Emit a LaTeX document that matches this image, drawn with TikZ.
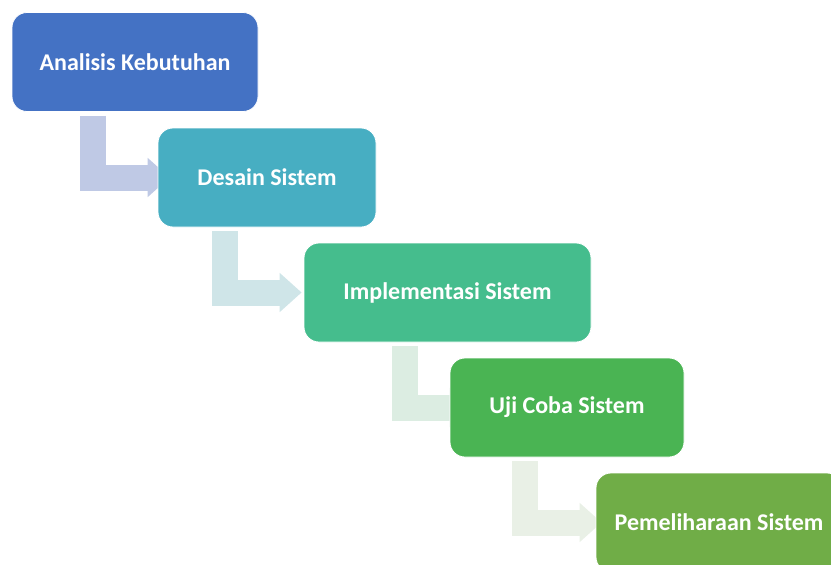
\documentclass[tikz,border=0pt]{standalone}
\usepackage{fontspec}
\setmainfont{Carlito}
\usetikzlibrary{arrows.meta,backgrounds,calc}
\definecolor{c1}{HTML}{4472C4}
\definecolor{c2}{HTML}{47AEC2}
\definecolor{c3}{HTML}{45BD8D}
\definecolor{c4}{HTML}{4AB453}
\definecolor{c5}{HTML}{70AD47}
\definecolor{a1}{HTML}{BFC9E5}
\definecolor{a2}{HTML}{CFE5E8}
\definecolor{a3}{HTML}{DCEDE2}
\definecolor{a4}{HTML}{E9F0E6}
\begin{document}
\begin{tikzpicture}[x=1pt,y=-1pt,
  stage/.style={rounded corners=15pt, draw=white, line width=0.8pt, text=white,
    font=\bfseries\fontsize{24}{28}\selectfont, minimum height=99pt, inner sep=0pt},
  flow/.style={line width=26pt, line join=miter, -{Triangle[width=38pt,length=22pt]}}]
\useasboundingbox (0,0) rectangle (831,565);
\node[stage, fill=c1, minimum width=246pt] (a) at (135,62) {Analisis Kebutuhan};
\node[stage, fill=c2, minimum width=218pt] (b) at (267,177.5) {Desain Sistem};
\node[stage, fill=c3, minimum width=287pt] (c) at (447.5,292.5) {Implementasi Sistem};
\node[stage, fill=c4, minimum width=234pt] (d) at (567,407.5) {Uji Coba Sistem};
\node[stage, fill=c5, minimum width=246pt] (e) at (719,522.5) {Pemeliharaan Sistem};
\begin{scope}[on background layer]
\draw[flow, draw=a1] ($(a.south west)+(81,4)$) |- ($(b.west)+(12,0)$);
\draw[flow, draw=a2] ($(b.south west)+(67,4)$) |- ($(c.west)+(-2,0)$);
\draw[flow, draw=a3] ($(c.south west)+(101.5,4)$) |- ($(d.west)+(22,0)$);
\draw[flow, draw=a4] ($(d.south west)+(75,4)$) |- ($(e.west)+(6,0)$);
\end{scope}
\end{tikzpicture}
\end{document}
